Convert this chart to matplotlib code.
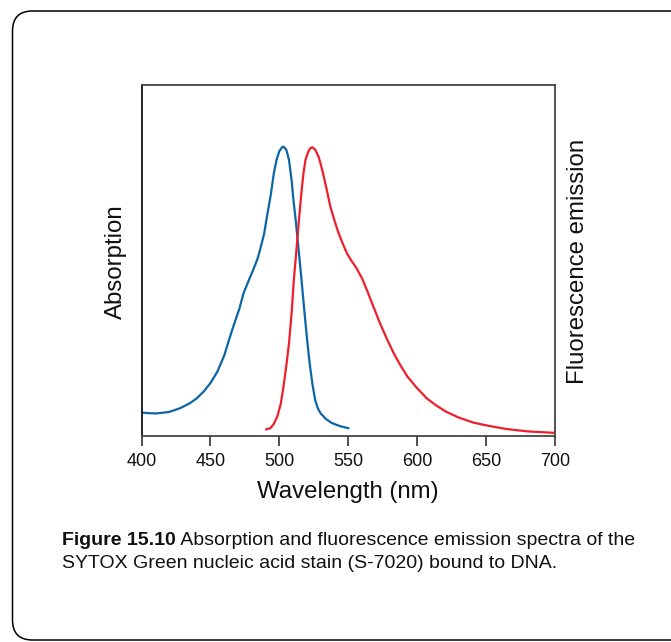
import matplotlib
matplotlib.use("Agg")
from matplotlib import pyplot as plt
from matplotlib.patches import FancyBboxPatch
from matplotlib.transforms import IdentityTransform

# absorption spectrum (blue), normalised to peak
abs_wl = [400, 405, 411, 420, 428, 435, 440, 445, 450, 455, 460, 464, 467, 471, 474, 478,
          481, 484, 486, 489, 491, 494, 496, 498, 500, 502, 503, 505, 507, 509, 510, 512,
          514, 516, 518, 520, 522, 524, 526, 528, 530, 534, 538, 544, 550]
abs_val = [0.081, 0.079, 0.078, 0.083, 0.096, 0.113, 0.130, 0.153, 0.183, 0.222, 0.278, 0.340,
           0.384, 0.440, 0.493, 0.540, 0.574, 0.610, 0.643, 0.700, 0.758, 0.840, 0.908, 0.955,
           0.985, 0.998, 1.0, 0.990, 0.955, 0.880, 0.827, 0.740, 0.643, 0.545, 0.440, 0.340,
           0.251, 0.180, 0.124, 0.095, 0.078, 0.058, 0.045, 0.034, 0.027]

# fluorescence emission spectrum (red), normalised to peak
em_wl = [490.5, 493.5, 496, 498.5, 501, 503, 505, 507, 509, 510.5, 512, 514, 516, 517.5, 519,
         521, 522.5, 524, 526, 528.5, 530, 532, 534, 537, 540, 543, 546, 549, 552, 556, 560,
         563.5, 568, 573, 578, 583, 588, 593, 600, 607, 614, 621, 630, 641, 652, 665, 680, 699]
em_val = [0.023, 0.027, 0.042, 0.067, 0.110, 0.170, 0.240, 0.320, 0.430, 0.539, 0.620, 0.735,
          0.840, 0.908, 0.955, 0.983, 0.995, 0.998, 0.990, 0.965, 0.940, 0.902, 0.860, 0.793,
          0.745, 0.701, 0.665, 0.632, 0.608, 0.580, 0.545, 0.505, 0.450, 0.390, 0.336, 0.286,
          0.243, 0.205, 0.165, 0.130, 0.105, 0.084, 0.064, 0.046, 0.035, 0.024, 0.016, 0.011]

xticks = [400, 450, 500, 550, 600, 650, 700]
caption_bold = "Figure 15.10"
caption_rest = " Absorption and fluorescence emission spectra of the"
caption_line2 = "SYTOX Green nucleic acid stain (S-7020) bound to DNA."

plt.rcParams['font.family'] = ['Liberation Sans', 'DejaVu Sans']

fig = plt.figure(figsize=(6.71, 6.42), dpi=100)
W, H = 671, 642

# rounded frame around the whole figure
frame = FancyBboxPatch((12.5, 2), 720, 629, boxstyle="round,pad=0,rounding_size=20",
                       transform=IdentityTransform(), facecolor='none', edgecolor='black',
                       linewidth=1.1)
fig.patches.append(frame)

ax = fig.add_axes([141.5 / W, 1 - 436 / H, (555 - 141.5) / W, (436 - 84.5) / H])
ax.plot(abs_wl, abs_val, color='#0a66a6', linewidth=1.6)
ax.plot(em_wl, em_val, color='#ee1f2b', linewidth=1.6)

ax.set_xlim(400, 700)
ax.set_ylim(0, 351.5 / 289.3)
ax.set_xticks(xticks)
ax.set_yticks([])
ax.tick_params(axis='x', length=7, width=1.2, color='#333333', labelsize=13, pad=5,
               labelcolor='#111111')
for s in ax.spines.values():
    s.set_color('#444444')
    s.set_linewidth(1.3)
ax.spines['left'].set_color('#111111')

ax.set_xlabel('Wavelength (nm)', fontsize=17.3, labelpad=8, color='#111111')
fig.text(116 / W, 1 - 262 / H, 'Absorption', rotation=90, fontsize=17.3,
         ha='center', va='center', color='#111111')
fig.text(578 / W, 1 - 261 / H, 'Fluorescence emission', rotation=90, fontsize=17.3,
         ha='center', va='center', color='#111111')

# caption: bold figure number followed by regular text, sized to fit the frame
cap_size = 15
t1 = fig.text(62 / W, 1 - 545 / H, caption_bold, fontsize=cap_size, fontweight='bold',
              va='baseline', color='#111111')
t2 = ax.annotate(caption_rest, xy=(1, 0), xycoords=t1, va='bottom', ha='left',
                 fontsize=cap_size, color='#111111', annotation_clip=False)
t3 = fig.text(62 / W, 1 - 568 / H, caption_line2, fontsize=cap_size,
              va='baseline', color='#111111')
fig.canvas.draw()
r = fig.canvas.get_renderer()
line_w = t2.get_window_extent(r).x1 - t1.get_window_extent(r).x0
cap_size = cap_size * 572 / line_w
for t in (t1, t2, t3):
    t.set_fontsize(cap_size)

fig.savefig('out.png', dpi=100)
